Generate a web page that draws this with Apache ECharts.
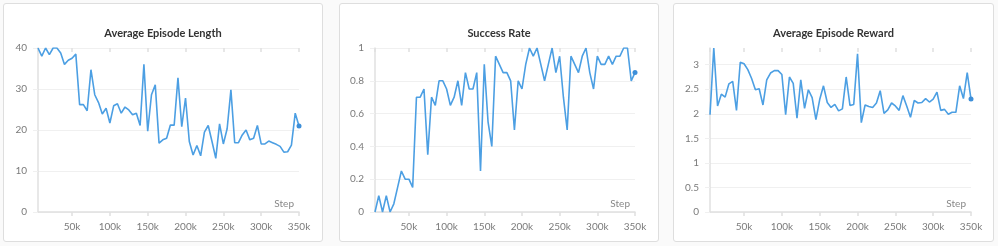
<!DOCTYPE html>
<html>
<head>
<meta charset="utf-8">
<script src="https://cdn.jsdelivr.net/npm/echarts@6/dist/echarts.min.js"></script>
<style>
  html, body { margin: 0; padding: 0; background: #fafafa; width: 998px; height: 246px; overflow: hidden; }
  .panel { position: absolute; box-sizing: border-box; background: #fff; border: 1px solid #dedede; border-radius: 3px; }
  .panel div.c { width: 100%; height: 100%; }
</style>
</head>
<body>
<div class="panel" style="left:3px;top:3px;width:320px;height:239px;"><div class="c" id="c1"></div></div>
<div class="panel" style="left:339px;top:3px;width:320px;height:239px;"><div class="c" id="c2"></div></div>
<div class="panel" style="left:673px;top:3px;width:321px;height:239px;"><div class="c" id="c3"></div></div>
<script>
// Steps (in thousands)
const steps = [5,10,15,20,25,30,35,40,45,50,55,60,65,70,75,80,85,90,95,100,
  105,110,115,120,125,130,135,140,145,150,155,160,165,170,175,180,185,190,195,200,
  205,210,215,220,225,230,235,240,245,250,255,260,265,270,275,280,285,290,295,300,
  305,310,315,320,325,330,335,340,345,350];

const episodeLength = [40,38,40,38.4,40,40,38.8,36,37,37.5,
  38.5,26.2,26.2,24.7,34.7,28.6,26.7,23.9,25.3,21.7,
  25.9,26.4,24.1,25.6,24.9,23.7,24.1,21.1,36,19.7,
  28.6,31,16.8,17.6,18,21.2,21.2,32.7,20.8,27.8,
  17.2,13.9,16.2,13.7,19.5,21.1,17.2,13.1,21.5,16.6,
  20.3,29.8,16.9,16.9,18.8,20,17.6,18,21.1,16.6,
  16.6,17.3,16.9,16.5,16,14.6,14.7,16.3,24.1,21];

const successRate = [0,0.1,0,0.1,0,0.05,0.15,0.25,0.2,0.2,
  0.15,0.7,0.7,0.75,0.35,0.7,0.65,0.8,0.8,0.75,
  0.65,0.7,0.8,0.65,0.85,0.75,0.75,0.85,0.25,0.9,
  0.55,0.4,0.95,0.9,0.85,0.85,0.8,0.5,0.8,0.75,
  0.9,1,0.95,1,0.9,0.8,0.9,1,0.85,0.95,
  0.7,0.5,0.95,0.9,0.85,0.95,1,0.85,0.75,0.95,
  0.9,0.9,0.95,0.9,0.95,0.95,1,1,0.8,0.85];

const episodeReward = [1.98,3.34,2.16,2.4,2.34,2.61,2.66,2.07,3.05,3.02,
  2.9,2.72,2.49,2.51,2.18,2.69,2.83,2.88,2.88,2.8,
  1.98,2.75,2.62,1.91,2.69,2.11,2.49,2.33,1.88,2.29,
  2.57,2.23,2.13,2.19,2.06,2.1,2.75,2.17,2.19,3.22,
  1.82,2.18,2.15,2.13,2.22,2.47,2.01,2.08,2.22,2.16,
  2.07,2.37,2.16,1.93,2.27,2.22,2.23,2.31,2.24,2.3,
  2.44,2.07,2.09,1.99,2.03,2.03,2.57,2.31,2.84,2.3];

const titles = ['Average Episode Length', 'Success Rate', 'Average Episode Reward'];
const xName = 'Step';

const FONT = 'Lato';
const LINE = '#4c9fe3';
const AXIS = '#e0e0e0';
const GRIDC = '#f0f0f0';
const LABEL = '#7a7a7a';

function makeOption(title, values, y, gridLeft, gridWidth) {
  const xMin = steps[0] * 1000, xMax = steps[steps.length - 1] * 1000;
  const data = steps.map((s, i) => {
    const last = i === steps.length - 1;
    return { value: [s * 1000, values[i]], symbol: last ? 'circle' : 'none', symbolSize: last ? 5 : 0 };
  });
  const baseX = {
    type: 'value', min: xMin, max: xMax, minInterval: 50000, maxInterval: 50000, splitNumber: 7
  };
  return {
    animation: false,
    textStyle: { fontFamily: FONT },
    title: {
      text: title, left: 'center', top: 19,
      textStyle: { fontFamily: FONT, fontSize: 11, fontWeight: 'bold', color: '#333' }
    },
    grid: { left: gridLeft, top: 44, width: gridWidth, height: 164 },
    xAxis: [
      Object.assign({}, baseX, {
        name: xName, nameLocation: 'end', nameGap: -5,
        nameTextStyle: { fontFamily: FONT, fontSize: 10, color: '#888', align: 'right', verticalAlign: 'bottom', padding: [0, 0, 3, 0] },
        axisLine: { show: true, lineStyle: { color: AXIS, width: 1.5 } },
        axisTick: { show: true, length: 4, lineStyle: { color: AXIS, width: 1.5 } },
        axisLabel: { showMinLabel: false, margin: 10, color: LABEL, fontSize: 10, fontFamily: FONT,
          formatter: v => (v / 1000) + 'k' },
        splitLine: { show: false }
      }),
      Object.assign({}, baseX, {
        axisLine: { show: false },
        axisTick: { show: true, inside: true, length: 4, lineStyle: { color: AXIS, width: 1.5 } },
        axisLabel: { show: false },
        splitLine: { show: false }
      })
    ],
    yAxis: Object.assign({
      type: 'value',
      axisLine: { show: true, lineStyle: { color: AXIS, width: 1.5 } },
      axisTick: { show: true, length: 5, lineStyle: { color: GRIDC } },
      axisLabel: { margin: 11, color: LABEL, fontSize: 10, fontFamily: FONT },
      splitLine: { show: true, lineStyle: { color: GRIDC, width: 1 } }
    }, y),
    series: [{
      type: 'line', xAxisIndex: 0, data: data,
      lineStyle: { color: LINE, width: 1.6 },
      itemStyle: { color: '#3d8fd9' },
      showSymbol: true, showAllSymbol: true
    }]
  };
}

const c1 = echarts.init(document.getElementById('c1'), null, { renderer: 'canvas' });
c1.setOption(makeOption(titles[0], episodeLength, { min: 0, max: 40, interval: 10 }, 34, 261));

const c2 = echarts.init(document.getElementById('c2'), null, { renderer: 'canvas' });
c2.setOption(makeOption(titles[1], successRate, { min: 0, max: 1, interval: 0.2 }, 35, 260));

const c3 = echarts.init(document.getElementById('c3'), null, { renderer: 'canvas' });
const y3 = { min: 0, max: 'dataMax', interval: 0.5 };
const opt3 = makeOption(titles[2], episodeReward, y3, 36, 261);
opt3.yAxis.axisLabel.showMaxLabel = false;
opt3.yAxis.splitLine.showMaxLine = false;
c3.setOption(opt3);
</script>
</body>
</html>
